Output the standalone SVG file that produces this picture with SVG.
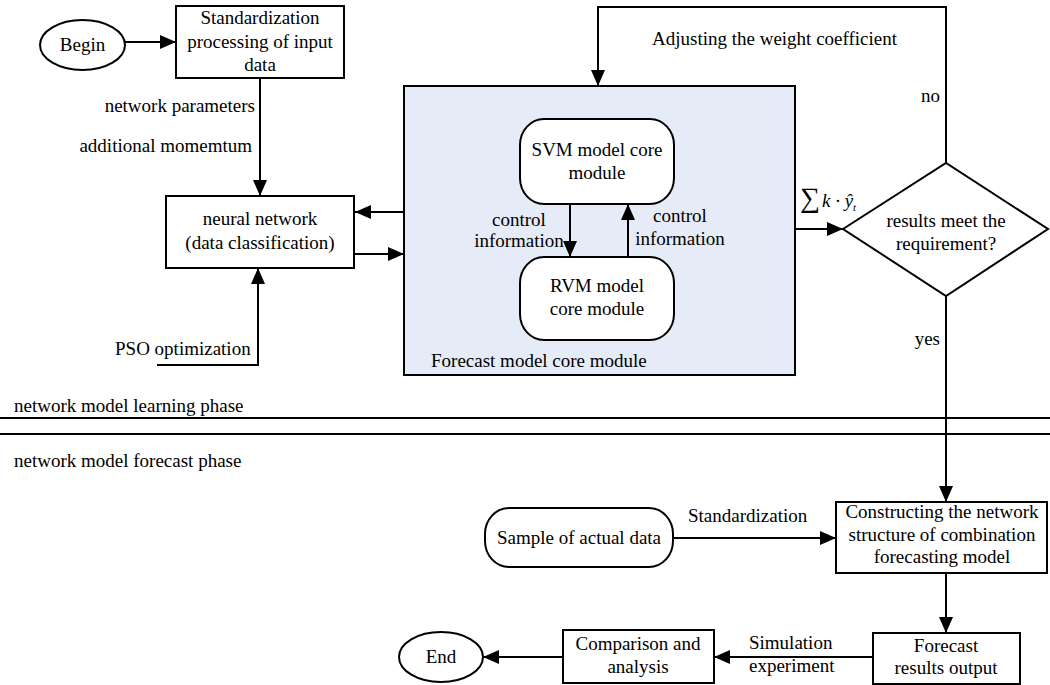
<svg xmlns="http://www.w3.org/2000/svg" width="1050" height="685" viewBox="0 0 1050 685" font-family="'Liberation Serif', serif" font-size="19">
<defs>
<marker id="ah" markerUnits="userSpaceOnUse" markerWidth="16" markerHeight="14" refX="16" refY="7" orient="auto">
<path d="M0,0 L16,7 L0,14 Z" fill="#000"/>
</marker>
<style>
text{font-family:'Liberation Serif',serif;font-size:19px;fill:#000}
.c{text-anchor:middle}
.e{text-anchor:end}
.s{fill:#fff;stroke:#000;stroke-width:2}
.conn path,.conn line{fill:none;stroke:#000;stroke-width:2}
.a{marker-end:url(#ah)}
</style>
</defs>
<rect width="1050" height="685" fill="#fff"/>

<g id="forecast-module">
<rect x="404" y="86" width="391" height="289" fill="#E6ECF7" stroke="#000" stroke-width="2"/>
<text x="431" y="367">Forecast model core module</text>
</g>

<g id="begin">
<ellipse class="s" cx="82.5" cy="45" rx="42.5" ry="25"/>
<text class="c" x="82.5" y="51">Begin</text>
</g>
<g id="standardization">
<rect class="s" x="176" y="6" width="168" height="72"/>
<text class="c" x="260" y="24">Standardization</text>
<text class="c" x="260" y="48">processing of input</text>
<text class="c" x="260" y="71">data</text>
</g>
<g id="neural-network">
<rect class="s" x="166" y="196" width="188" height="72"/>
<text class="c" x="260" y="225">neural network</text>
<text class="c" x="260" y="249">(data classification)</text>
</g>
<g id="svm">
<rect class="s" x="520" y="119" width="154" height="85" rx="24" ry="26"/>
<text class="c" x="597" y="156">SVM model core</text>
<text class="c" x="597" y="179">module</text>
</g>
<g id="rvm">
<rect class="s" x="520" y="257" width="154" height="83" rx="24" ry="26"/>
<text class="c" x="597" y="292">RVM model</text>
<text class="c" x="597" y="315">core module</text>
</g>
<g id="decision">
<polygon class="s" points="843,229 946,163 1048,229 946,296"/>
<text class="c" x="946" y="227">results meet the</text>
<text class="c" x="946" y="250">requirement?</text>
</g>
<g id="sample">
<rect class="s" x="485" y="508" width="188" height="59" rx="24" ry="26"/>
<text class="c" x="579" y="544">Sample of actual data</text>
</g>
<g id="constructing">
<rect class="s" x="836" y="502" width="211" height="71"/>
<text class="c" x="942" y="518">Constructing the network</text>
<text class="c" x="942" y="541">structure of combination</text>
<text class="c" x="942" y="563">forecasting model</text>
</g>
<g id="forecast-results">
<rect class="s" x="873" y="633" width="147" height="51"/>
<text class="c" x="946" y="652">Forecast</text>
<text class="c" x="946" y="674">results output</text>
</g>
<g id="comparison">
<rect class="s" x="563" y="630" width="151" height="53"/>
<text class="c" x="638" y="650">Comparison and</text>
<text class="c" x="638" y="673">analysis</text>
</g>
<g id="end">
<ellipse class="s" cx="441" cy="657" rx="42" ry="25"/>
<text class="c" x="441" y="663">End</text>
</g>

<g id="phases">
<line x1="0" y1="418" x2="1050" y2="418" stroke="#000" stroke-width="2"/>
<line x1="0" y1="434" x2="1050" y2="434" stroke="#000" stroke-width="2"/>
<text x="14" y="412">network model learning phase</text>
<text x="14" y="467">network model forecast phase</text>
</g>

<g id="connectors" class="conn">
<path class="a" d="M125,42 L176,42"/>
<path class="a" d="M260,78 L260,196"/>
<path class="a" d="M404,212 L355,212"/>
<path class="a" d="M355,254 L404,254"/>
<path class="a" d="M157,365 L258,365 L258,268"/>
<path class="a" d="M570,204 L570,257"/>
<path class="a" d="M628,257 L628,204"/>
<path class="a" d="M795,229 L843,229"/>
<path class="a" d="M946,163 L946,7 L598,7 L598,86"/>
<path class="a" d="M946,296 L946,502"/>
<path class="a" d="M673,538 L836,538"/>
<path class="a" d="M946,573 L946,633"/>
<path class="a" d="M873,657 L714,657"/>
<path class="a" d="M563,657 L483,657"/>
</g>

<g id="labels">
<text class="e" x="255" y="112">network parameters</text>
<text class="e" x="252" y="152">additional momemtum</text>
<text x="115" y="355">PSO optimization</text>
<text x="652" y="45">Adjusting the weight coefficient</text>
<text class="e" x="940" y="102">no</text>
<text class="e" x="940" y="345">yes</text>
<text class="c" x="519" y="226">control</text>
<text class="c" x="519" y="247">information</text>
<text class="c" x="680" y="222">control</text>
<text class="c" x="680" y="245">information</text>
<text x="800" y="207"><tspan font-size="28">∑</tspan><tspan font-style="italic" dx="2">k · ŷ</tspan><tspan font-style="italic" font-size="11" dy="4">t</tspan></text>
<text x="688" y="522">Standardization</text>
<text x="749" y="649">Simulation</text>
<text x="749" y="672">experiment</text>
</g>
</svg>
